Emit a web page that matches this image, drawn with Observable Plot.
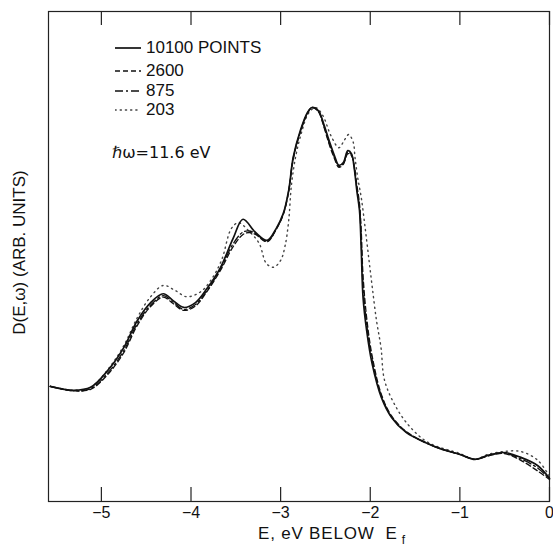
<!DOCTYPE html>
<html><head><meta charset="utf-8">
<script src="https://cdn.jsdelivr.net/npm/d3@7"></script>
<script src="https://cdn.jsdelivr.net/npm/@observablehq/plot@0.6"></script>
<style>
body{margin:0;background:#fff;}
#wrap{position:relative;width:553px;height:548px;font-family:"Liberation Sans",Arial,sans-serif;color:#111;}
.lg{position:absolute;left:115px;height:20px;display:flex;align-items:center;font-size:17px;white-space:nowrap;}
.lg svg{margin-right:5px;}
#hw{position:absolute;left:112px;top:143px;font-size:16px;font-family:"DejaVu Sans","Liberation Sans",sans-serif;}
#xl{position:absolute;left:258px;top:525px;font-size:17px;line-height:17px;letter-spacing:0.8px;white-space:pre;}
#xl span{font-size:12px;line-height:12px;position:relative;top:5px;}
</style></head><body><div id="wrap"></div>
<script>
// x tick values
const xTicks = [-5, -4, -3, -2, -1, 0];

// series labels
const seriesNames = ["10100 POINTS", "2600", "875", "203"];

// 10100 points (solid)
const e10100 = [-5.57,-5.31,-5.12,-4.93,-4.75,-4.60,-4.45,-4.31,-4.20,-4.08,-3.95,-3.82,-3.67,-3.53,-3.42,-3.28,-3.15,-3.05,-2.97,-2.91,-2.86,-2.78,-2.70,-2.65,-2.58,-2.52,-2.46,-2.40,-2.35,-2.30,-2.25,-2.21,-2.18,-2.15,-2.12,-2.10,-2.08,-2.04,-1.98,-1.875,-1.76,-1.60,-1.38,-1.22,-1.0,-0.83,-0.69,-0.51,-0.32,-0.13,0];
const d10100 = [23.5,22.7,23.3,26.7,31.4,36.9,40.6,42.4,41.0,39.6,40.6,43.5,47.8,53.7,57.6,54.9,53.3,55.7,58.8,63.5,70.2,75.7,79.4,80.4,79.8,77.1,73.7,70.6,68.6,69.2,71.6,71.0,68.2,63.5,59.4,51.2,41.6,34.9,28.2,21.2,17.1,14.1,12.0,10.8,9.6,8.6,9.4,10.0,9.0,7.3,4.7];

// 2600 points (dashed)
const e2600 = [-5.57,-5.31,-5.12,-4.93,-4.75,-4.60,-4.45,-4.31,-4.20,-4.08,-3.95,-3.82,-3.67,-3.53,-3.42,-3.35,-3.28,-3.15,-3.05,-2.97,-2.91,-2.86,-2.78,-2.70,-2.65,-2.58,-2.52,-2.46,-2.40,-2.35,-2.30,-2.25,-2.21,-2.18,-2.15,-2.12,-2.10,-2.08,-2.04,-1.98,-1.875,-1.76,-1.60,-1.38,-1.22,-1.0,-0.83,-0.69,-0.51,-0.32,-0.13,0];
const d2600 = [23.5,22.6,22.9,25.9,30.4,35.9,39.8,41.7,40.4,39.0,39.9,42.9,47.2,52.0,54.5,54.9,54.5,53.0,55.5,58.6,63.3,69.8,75.4,79.2,80.4,79.6,76.6,73.0,70.0,68.2,68.8,71.0,70.6,68.6,64.6,60.8,55.0,46.0,37.5,29.8,21.8,17.4,14.3,12.0,10.8,9.6,8.6,9.3,9.8,8.4,6.2,4.5];

// 875 points (dash-dot)
const e875 = [-5.57,-5.31,-5.12,-4.93,-4.75,-4.60,-4.45,-4.31,-4.20,-4.08,-3.95,-3.82,-3.67,-3.53,-3.42,-3.35,-3.28,-3.15,-3.05,-2.97,-2.91,-2.86,-2.78,-2.70,-2.65,-2.58,-2.52,-2.46,-2.40,-2.35,-2.30,-2.25,-2.21,-2.18,-2.15,-2.12,-2.10,-2.08,-2.04,-1.98,-1.875,-1.76,-1.60,-1.38,-1.22,-1.0,-0.83,-0.69,-0.51,-0.32,-0.13,0];
const d875 = [23.5,22.6,23.0,26.2,30.8,36.3,40.1,42.0,40.7,39.2,40.2,43.1,47.5,52.6,55.0,55.2,54.7,53.1,55.6,58.7,63.4,70.0,75.5,79.3,80.4,79.7,76.8,73.3,70.3,68.4,69.0,71.3,70.8,68.4,64.0,60.0,53.0,44.0,36.2,29.0,21.5,17.2,14.2,12.0,10.8,9.6,8.6,9.3,9.9,8.7,6.8,4.6];

// 203 points (dotted)
const e203 = [-5.57,-5.31,-5.12,-4.93,-4.75,-4.60,-4.45,-4.31,-4.18,-4.05,-3.90,-3.78,-3.66,-3.55,-3.47,-3.36,-3.24,-3.16,-3.08,-3.00,-2.95,-2.91,-2.88,-2.83,-2.77,-2.69,-2.61,-2.53,-2.44,-2.35,-2.29,-2.24,-2.19,-2.17,-2.14,-2.10,-2.06,-2.02,-1.98,-1.93,-1.88,-1.84,-1.71,-1.55,-1.35,-1.0,-0.83,-0.69,-0.51,-0.32,-0.13,0];
const d203 = [23.5,22.7,23.3,26.9,31.8,37.5,41.8,44.1,43.1,41.8,42.7,45.1,49.2,55.7,56.9,55.3,52.7,48.6,47.8,49.2,52.2,57.3,64.5,70.6,75.1,79.2,80.4,78.8,74.7,72.2,73.7,74.9,73.3,70.2,66.1,62.0,56.3,50.2,44.1,36.9,31.4,24.7,19.2,15.1,12.0,9.8,8.6,9.6,10.2,10.2,8.4,5.1];

const toRows = (es, ds, s) => es.map((e, i) => ({E: e, D: ds[i], series: s}));
const r10100 = toRows(e10100, d10100, seriesNames[0]);
const r2600 = toRows(e2600, d2600, seriesNames[1]);
const r875 = toRows(e875, d875, seriesNames[2]);
const r203 = toRows(e203, d203, seriesNames[3]);

const styles = [
  {dash: null, w: 1.7, c: "#111"},
  {dash: "5,3", w: 1.3, c: "#111"},
  {dash: "8,3,2,3", w: 1.3, c: "#111"},
  {dash: "1.2,4", w: 1.4, c: "#444"}
];

const fmt = d => d === 0 ? "0" : "\u2212" + Math.abs(d);

const chart = Plot.plot({
  width: 553, height: 548,
  marginLeft: 48, marginRight: 4, marginTop: 11, marginBottom: 47,
  x: {domain: [-5.59, 0]},
  y: {domain: [0, 100], axis: null},
  style: {fontFamily: "Liberation Sans, Arial, sans-serif", fontSize: "16px", color: "#111", background: "#fff"},
  marks: [
    Plot.frame({stroke: "#222", strokeWidth: 1.2}),
    Plot.tickX(xTicks, {x: d => d, insetTop: 476, stroke: "#222", strokeWidth: 1.2}),
    Plot.tickX(xTicks, {x: d => d, insetBottom: 476, stroke: "#222", strokeWidth: 1.2}),
    Plot.axisX(xTicks, {tickSize: 0, tickPadding: 5, label: null, tickFormat: fmt, fontSize: 16}),
    Plot.text(["D(E,\u03c9) (ARB. UNITS)"], {frameAnchor: "left", textAnchor: "middle", rotate: -90, dx: -29, dy: -4, fontSize: 17, fill: "#111"}),
    Plot.line(r203, {x: "E", y: "D", curve: "catmull-rom", stroke: styles[3].c, strokeWidth: styles[3].w, strokeDasharray: styles[3].dash, strokeLinecap: "round"}),
    Plot.line(r875, {x: "E", y: "D", curve: "catmull-rom", stroke: styles[2].c, strokeWidth: styles[2].w, strokeDasharray: styles[2].dash}),
    Plot.line(r2600, {x: "E", y: "D", curve: "catmull-rom", stroke: styles[1].c, strokeWidth: styles[1].w, strokeDasharray: styles[1].dash}),
    Plot.line(r10100, {x: "E", y: "D", curve: "catmull-rom", stroke: styles[0].c, strokeWidth: styles[0].w})
  ]
});

const wrap = document.getElementById("wrap");
wrap.appendChild(chart);

const rowTops = [38, 61, 81, 100];
seriesNames.forEach((name, i) => {
  const div = document.createElement("div");
  div.className = "lg";
  div.style.top = rowTops[i] + "px";
  const st = styles[i];
  div.innerHTML = `<svg width="26" height="6"><line x1="0" x2="26" y1="3" y2="3" stroke="${st.c}" stroke-width="${st.w}" ${st.dash ? `stroke-dasharray="${st.dash}"` : ""} stroke-linecap="${i === 3 ? "round" : "butt"}"/></svg><span>${name}</span>`;
  wrap.appendChild(div);
});
const hw = document.createElement("div");
hw.id = "hw";
hw.textContent = "\u210f\u03c9=11.6 eV";
wrap.appendChild(hw);
const xl = document.createElement("div");
xl.id = "xl";
xl.innerHTML = "E, eV BELOW  E<span> f</span>";
wrap.appendChild(xl);
</script></body></html>
